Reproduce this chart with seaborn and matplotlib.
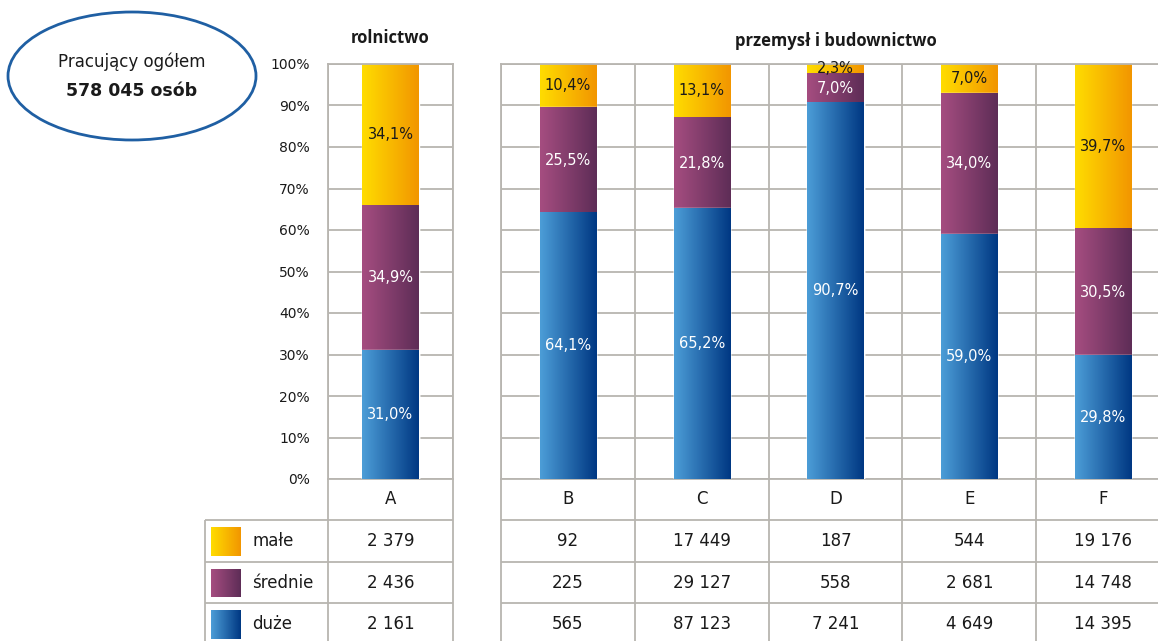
import numpy as np
import matplotlib
matplotlib.use("Agg")
import matplotlib.pyplot as plt
from matplotlib.colors import LinearSegmentedColormap
from matplotlib.patches import Ellipse
import pandas as pd
import seaborn as sns

# --- dane ---
sekcje_rol = ["A"]
sekcje_przem = ["B", "C", "D", "E", "F"]
serie = ["małe", "średnie", "duże"]

# udzialy procentowe (A, B, C, D, E, F)
pct_male = [34.1, 10.4, 13.1, 2.3, 7.0, 39.7]
pct_srednie = [34.9, 25.5, 21.8, 7.0, 34.0, 30.5]
pct_duze = [31.0, 64.1, 65.2, 90.7, 59.0, 29.8]

# liczba pracujacych (tabela)
lic_male = ["2 379", "92", "17 449", "187", "544", "19 176"]
lic_srednie = ["2 436", "225", "29 127", "558", "2 681", "14 748"]
lic_duze = ["2 161", "565", "87 123", "7 241", "4 649", "14 395"]

gradienty = {
    "małe": ("#ffdc00", "#f29600"),
    "średnie": ("#a54d80", "#5e2d57"),
    "duże": ("#4c9dd7", "#003883"),
}

# --- uklad (piksele) ---
W, H = 1158, 641
GORA, DOL = 64, 479
WIERSZE = [479, 520, 562, 603, 645]
LX0, LX1 = 328, 453
RX0, RX1 = 501, 1170
LEG_X = 205
SZARY = "#b8b5b0"
TXT = "#1a1a1a"
TYTUL = ["Open Sans", "DejaVu Sans"]

sns.set_theme(style="white")
plt.rcParams["font.family"] = ["DejaVu Sans"]

fig = plt.figure(figsize=(W / 100, H / 100), dpi=100)


def px_axes(x0, x1, y0, y1, **kw):
    return fig.add_axes([x0 / W, 1 - y1 / H, (x1 - x0) / W, (y1 - y0) / H], **kw)


def fmt(v):
    return f"{v:.1f}".replace(".", ",") + "%"


def panel(ax, cats, male, sred, duze, szer):
    df = pd.DataFrame({"sekcja": cats, "duże": duze, "średnie": sred, "małe": male})
    df["cum_sr"] = df["duże"] + df["średnie"]
    df["cum_ma"] = df["cum_sr"] + df["małe"]
    for kol, klucz, z in [("cum_ma", "małe", 2), ("cum_sr", "średnie", 3), ("duże", "duże", 4)]:
        n0 = len(ax.patches)
        sns.barplot(data=df, x="sekcja", y=kol, color=gradienty[klucz][0], saturation=1,
                    width=szer, ax=ax, zorder=z)
        cmap = LinearSegmentedColormap.from_list(klucz, gradienty[klucz])
        for p in ax.patches[n0:]:
            x, w, h = p.get_x(), p.get_width(), p.get_height()
            ax.imshow(np.linspace(0, 1, 64).reshape(1, -1), cmap=cmap, aspect="auto",
                      extent=(x, x + w, 0, h), zorder=z + 0.5, interpolation="bilinear")
    for i, r in df.iterrows():
        ax.text(i, r["duże"] / 2, fmt(r["duże"]), ha="center", va="center",
                color="white", fontsize=10.5, zorder=10)
        ax.text(i, r["duże"] + r["średnie"] / 2, fmt(r["średnie"]), ha="center",
                va="center", color="white", fontsize=10.5, zorder=10)
        ax.text(i, r["cum_sr"] + r["małe"] / 2, fmt(r["małe"]), ha="center",
                va="center", color=TXT, fontsize=10.5, zorder=10)
    n = len(cats)
    ax.set_xlim(-0.5, n - 0.5)
    ax.set_ylim(0, 100)
    ax.set_yticks(range(0, 101, 10))
    ax.set_yticklabels([f"{v}%" for v in range(0, 101, 10)])
    ax.set_xticks(np.arange(-0.5, n), minor=True)
    ax.set_xticks([])
    ax.yaxis.grid(True, color=SZARY, lw=1.3)
    ax.xaxis.grid(True, which="minor", color=SZARY, lw=1.3)
    ax.set_axisbelow(True)
    ax.set_xlabel("")
    ax.set_ylabel("")
    ax.tick_params(axis="both", which="both", length=0, pad=13, labelsize=10,
                   labelcolor=TXT)
    for s in ax.spines.values():
        s.set_color(SZARY)
        s.set_linewidth(1.3)


ax_l = px_axes(LX0, LX1, GORA, DOL)
panel(ax_l, sekcje_rol, pct_male[:1], pct_srednie[:1], pct_duze[:1], 0.45)
ax_l.set_title("rolnictwo", fontsize=12, fontweight="bold", color=TXT, pad=15,
               family=TYTUL)

ax_r = px_axes(RX0, RX1, GORA, DOL)
panel(ax_r, sekcje_przem, pct_male[1:], pct_srednie[1:], pct_duze[1:], 0.42)
ax_r.tick_params(axis="y", labelleft=False)

# --- tabela danych i opisy ---
ov = fig.add_axes([0, 0, 1, 1], zorder=20)
ov.axis("off")
ov.patch.set_alpha(0)

kw = dict(color=SZARY, lw=1.3, solid_capstyle="butt")
for y in WIERSZE[1:4]:
    ov.plot([LEG_X, LX1], [y, y], **kw)
    ov.plot([RX0, RX1], [y, y], **kw)
ov.plot([LEG_X, LEG_X], [WIERSZE[1], H], **kw)
for x in [LX0, LX1]:
    ov.plot([x, x], [DOL, H], **kw)
kol_w = (RX1 - RX0) / len(sekcje_przem)
for k in range(len(sekcje_przem) + 1):
    x = RX0 + k * kol_w
    ov.plot([x, x], [DOL, H], **kw)

srodki = [(LX0 + LX1) / 2] + [RX0 + (k + 0.5) * kol_w for k in range(len(sekcje_przem))]
wiersze_c = [(WIERSZE[j] + WIERSZE[j + 1]) / 2 for j in range(4)]
for cx, kat, m, s, d in zip(srodki, sekcje_rol + sekcje_przem, lic_male, lic_srednie, lic_duze):
    for yc, t in zip(wiersze_c, [kat, m, s, d]):
        ov.text(cx, yc, t, ha="center", va="center", fontsize=12, color=TXT)

for j, seria in enumerate(serie):
    y0, y1 = WIERSZE[j + 1], WIERSZE[j + 2]
    cmap = LinearSegmentedColormap.from_list(seria, gradienty[seria])
    ov.imshow(np.linspace(0, 1, 64).reshape(1, -1), cmap=cmap, aspect="auto",
              extent=(LEG_X + 6, LEG_X + 36, y1 - 6, y0 + 7), interpolation="bilinear")
    ov.text(LEG_X + 47, (y0 + y1) / 2, seria, ha="left", va="center", fontsize=12, color=TXT)
ov.set_xlim(0, W)
ov.set_ylim(H, 0)

ov.text((RX0 + RX1) / 2, 41, "przemysł i budownictwo", ha="center", va="center",
        fontsize=12, fontweight="bold", color=TXT, family=TYTUL)

ov.add_patch(Ellipse((132, 76), 248, 128, facecolor="none", edgecolor="#1f5fa3", lw=2))
ov.text(132, 62, "Pracujący ogółem", ha="center", va="center", fontsize=12, color=TXT)
ov.text(132, 91, "578 045 osób", ha="center", va="center", fontsize=12.5,
        fontweight="bold", color=TXT)

fig.savefig("out.png", dpi=100)
